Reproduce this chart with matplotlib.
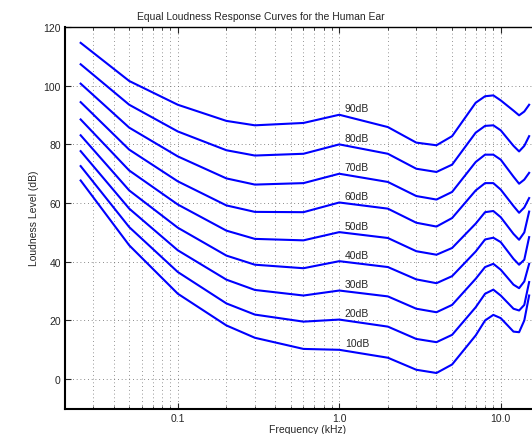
import matplotlib
matplotlib.use("Agg")
import matplotlib.pyplot as plt
from matplotlib.ticker import FixedLocator, NullFormatter, FixedFormatter

plt.rcParams['font.family'] = ['Liberation Sans', 'DejaVu Sans']

# Frequencies (kHz)
freq = [0.025, 0.05, 0.1, 0.2, 0.3, 0.6, 1.0, 2.0, 3.0, 4.0, 5.0, 7.0, 8.0, 9.0, 10.0, 12.0, 13.0, 14.0, 15.0]

# Loudness level curves (dB) for each phon level
levels = [10, 20, 30, 40, 50, 60, 70, 80, 90]
curve_90 = [114.6, 101.6, 93.5, 88.0, 86.5, 87.3, 90.1, 85.9, 80.6, 79.7, 82.8, 94.2, 96.4, 96.7, 95.0, 91.5, 89.9, 91.2, 93.5]
curve_80 = [107.3, 93.5, 84.4, 78.0, 76.2, 76.8, 80.0, 76.8, 71.7, 70.6, 73.1, 84.0, 86.3, 86.5, 84.8, 79.5, 77.6, 79.5, 82.8]
curve_70 = [100.7, 85.7, 75.9, 68.4, 66.3, 66.8, 70.0, 67.2, 62.4, 61.2, 63.8, 74.0, 76.5, 76.5, 74.8, 69.0, 66.6, 68.0, 70.3]
curve_60 = [94.4, 78.2, 67.4, 59.2, 57.0, 56.9, 60.2, 58.1, 53.3, 52.0, 54.9, 64.3, 66.8, 66.8, 64.6, 59.0, 56.7, 58.5, 61.7]
curve_50 = [88.5, 71.1, 59.5, 50.6, 47.8, 47.3, 50.1, 48.1, 43.6, 42.4, 44.7, 53.0, 56.9, 57.3, 55.2, 49.5, 47.5, 50.0, 57.1]
curve_40 = [83.1, 64.3, 51.6, 42.1, 39.0, 37.8, 40.2, 38.2, 34.0, 32.7, 35.1, 43.5, 47.6, 48.2, 46.7, 41.0, 39.0, 40.7, 48.4]
curve_30 = [77.7, 58.1, 43.9, 33.9, 30.4, 28.5, 30.2, 28.2, 24.0, 22.8, 25.3, 34.2, 38.2, 39.3, 37.3, 32.2, 31.0, 33.3, 39.3]
curve_20 = [72.6, 51.8, 36.5, 25.8, 22.0, 19.6, 20.3, 17.9, 13.7, 12.6, 15.1, 24.5, 29.1, 30.5, 28.5, 24.0, 23.4, 25.3, 33.1]
curve_10 = [67.7, 45.6, 29.1, 18.3, 14.1, 10.3, 10.0, 7.3, 3.2, 2.1, 5.0, 14.9, 20.0, 21.9, 20.8, 16.2, 16.0, 20.0, 28.5]
curves = [curve_10, curve_20, curve_30, curve_40, curve_50, curve_60, curve_70, curve_80, curve_90]
labels = ['10dB', '20dB', '30dB', '40dB', '50dB', '60dB', '70dB', '80dB', '90dB']

xticks = [0.1, 1.0, 10.0]
xticklabels = ['0.1', '1.0', '10.0']
yticks = [0, 20, 40, 60, 80, 100, 120]

W, H = 532, 435
fig = plt.figure(figsize=(W / 100, H / 100), dpi=100)
left, right, top, bottom = 65, 549.3, 28, 409.5
ax = fig.add_axes([left / W, 1 - bottom / H, (right - left) / W, (bottom - top) / H])

for c in curves:
    ax.plot(freq, c, color=(0, 0, 1), lw=1.5, solid_joinstyle='round', zorder=3)

for lab, lev, c in zip(labels, levels, curves):
    ax.annotate(lab, xy=(1.0, c[6] + 2.2), xytext=(4, 0), textcoords='offset points',
                ha='left', va='center', fontsize=7.5, color='0.15')

ax.set_xscale('log')
ax.set_xlim(0.02, 20)
ax.set_ylim(-10, 120)
ax.xaxis.set_major_locator(FixedLocator(xticks))
ax.xaxis.set_major_formatter(FixedFormatter(xticklabels))
minors = [m * 10.0 ** e for e in (-2, -1, 0, 1) for m in range(2, 10)]
ax.xaxis.set_minor_locator(FixedLocator(minors))
ax.xaxis.set_minor_formatter(NullFormatter())
ax.yaxis.set_major_locator(FixedLocator(yticks))

ax.grid(True, which='major', axis='both', color='0.4', linestyle=(0, (1, 3.5)), lw=0.6)
ax.grid(True, which='minor', axis='x', color='0.45', linestyle=(0, (1, 3.5)), lw=0.6)

ax.tick_params(which='both', direction='in', top=True, right=True, labelsize=7.5, pad=3,
               colors='0.15')
ax.tick_params(which='major', length=4, width=0.8)
ax.tick_params(which='minor', length=2, width=0.6)
for s in ax.spines.values():
    s.set_linewidth(1.5)
    s.set_color('k')
ax.spines['top'].set_linewidth(1.0)

ax.set_xlabel('Frequency (kHz)', fontsize=7.5, labelpad=1, color='0.15')
ax.set_ylabel('Loudness Level (dB)', fontsize=7.5, labelpad=3, color='0.15')
fig.text(261 / W, 1 - 16.5 / H, 'Equal Loudness Response Curves for the Human Ear',
         ha='center', va='center', fontsize=7.5, color='0.15')

fig.savefig('out.png', dpi=100)
